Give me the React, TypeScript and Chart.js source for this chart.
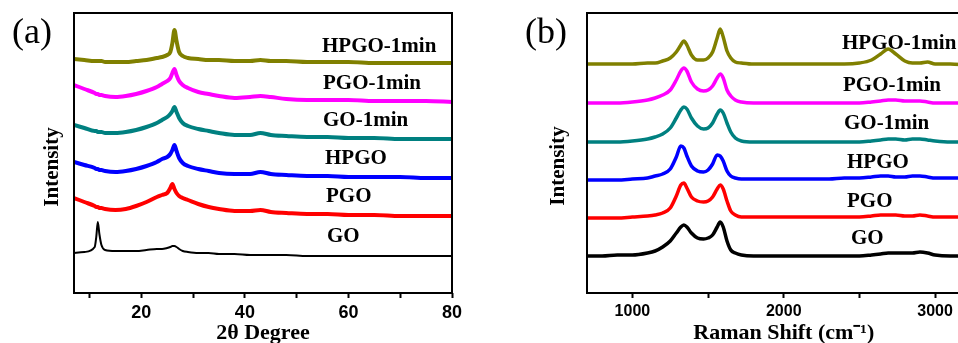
import React, { useEffect, useRef } from 'react';
import { Chart, registerables } from 'chart.js';
Chart.register(...registerables);

// ---------- series ----------
const SERIES = ['GO', 'PGO', 'HPGO', 'GO-1min', 'PGO-1min', 'HPGO-1min'];
const COLORS = ['#000000', '#ff0000', '#0000ff', '#008080', '#ff00ff', '#808000'];

// ---------- (a) XRD ----------
const XRD_X = [7, 9, 11, 11.3, 11.6, 11.9, 12.3, 13, 15, 17, 19, 21, 23, 24, 25, 25.6, 26, 26.4, 26.8, 27.3, 28, 29, 31, 33, 35, 38, 41, 43, 45, 48, 52, 56, 60, 65, 70, 75, 80];
const XRD_GO = [40, 41, 46, 56, 71, 59, 48, 43, 42, 42, 42, 43, 44, 44, 45, 46, 47, 47, 46, 44, 42, 41, 40, 40, 39, 39, 38, 38, 38, 38, 37, 37, 37, 37, 37, 37, 37];
const XRD_PGO = [95, 91, 87, 86, 86, 85, 85, 84, 83, 84, 87, 91, 96, 98, 100, 105, 109, 104, 100, 97, 95, 93, 89, 86, 84, 82, 82, 83, 81, 80, 79, 79, 78, 78, 77, 77, 77];
const XRD_HPGO = [131, 128, 125, 124, 124, 123, 123, 122, 121, 122, 124, 127, 131, 134, 136, 139, 143, 148, 142, 135, 130, 127, 124, 122, 120, 119, 119, 121, 119, 118, 117, 117, 116, 116, 116, 115, 115];
const XRD_GO1 = [168, 165, 162, 162, 161, 161, 161, 160, 160, 161, 163, 166, 170, 173, 176, 179, 182, 186, 181, 175, 170, 167, 164, 162, 160, 158, 158, 160, 158, 157, 156, 156, 155, 155, 154, 154, 154];
const XRD_PGO1 = [208, 204, 200, 199, 199, 198, 198, 197, 196, 197, 199, 202, 206, 209, 212, 215, 220, 224, 218, 212, 208, 205, 201, 199, 197, 195, 196, 197, 196, 194, 193, 193, 193, 192, 192, 192, 191];
const XRD_HPGO1 = [234, 233, 232, 232, 232, 232, 232, 231, 231, 231, 232, 233, 235, 236, 238, 241, 250, 263, 252, 241, 237, 235, 234, 233, 233, 232, 232, 233, 232, 232, 231, 231, 231, 230, 230, 230, 230];
const XRD_TICKS = [10, 20, 30, 40, 50, 60, 70, 80];
const XRD_LABELED = [20, 40, 60, 80];

// ---------- (b) Raman ----------
const RAMAN_X = [700, 800, 900, 1000, 1100, 1150, 1200, 1250, 1290, 1320, 1340, 1360, 1390, 1430, 1470, 1500, 1530, 1560, 1580, 1600, 1625, 1650, 1680, 1720, 1800, 1900, 2000, 2100, 2200, 2300, 2400, 2500, 2580, 2640, 2690, 2740, 2800, 2850, 2900, 2950, 3000, 3100, 3200];
const RAMAN_GO = [37, 37, 38, 38, 40, 42, 46, 52, 60, 66, 68, 66, 60, 55, 54, 55, 58, 66, 71, 66, 52, 43, 40, 38, 37, 37, 37, 37, 37, 37, 37, 37, 38, 39, 40, 40, 40, 40, 41, 40, 38, 37, 37];
const RAMAN_PGO = [75, 75, 75, 76, 77, 78, 80, 85, 97, 108, 110, 105, 96, 92, 91, 92, 96, 104, 108, 104, 92, 82, 78, 76, 76, 76, 76, 76, 76, 76, 76, 76, 77, 78, 78, 78, 77, 77, 78, 77, 76, 76, 76];
const RAMAN_HPGO = [113, 113, 113, 114, 115, 117, 119, 124, 136, 147, 145, 137, 127, 122, 121, 123, 129, 138, 137, 132, 122, 117, 115, 114, 114, 114, 114, 114, 114, 114, 115, 115, 116, 117, 117, 116, 116, 117, 117, 116, 115, 115, 115];
const RAMAN_GO1 = [151, 151, 151, 152, 154, 156, 159, 165, 175, 183, 186, 184, 175, 167, 164, 165, 170, 179, 183, 180, 170, 161, 155, 152, 151, 151, 151, 151, 151, 151, 151, 151, 152, 153, 154, 154, 153, 154, 154, 153, 152, 151, 151];
const RAMAN_PGO1 = [190, 190, 190, 191, 193, 195, 198, 203, 213, 222, 225, 222, 211, 204, 202, 203, 207, 215, 219, 215, 203, 197, 193, 191, 190, 190, 190, 190, 190, 190, 190, 190, 191, 192, 193, 193, 192, 192, 192, 191, 190, 190, 190];
const RAMAN_HPGO1 = [229, 229, 229, 229, 230, 230, 232, 235, 241, 248, 252, 248, 238, 233, 233, 235, 241, 255, 264, 256, 242, 235, 231, 230, 229, 229, 229, 229, 229, 229, 229, 230, 233, 239, 244, 239, 232, 230, 230, 231, 229, 229, 228];
const RAMAN_TICKS = [1000, 1500, 2000, 2500, 3000];
const RAMAN_LABELED = [1000, 2000, 3000];

const XRD_SERIES = [XRD_GO, XRD_PGO, XRD_HPGO, XRD_GO1, XRD_PGO1, XRD_HPGO1];
const RAMAN_SERIES = [RAMAN_GO, RAMAN_PGO, RAMAN_HPGO, RAMAN_GO1, RAMAN_PGO1, RAMAN_HPGO1];

const SERIF = '"Liberation Serif", "Times New Roman", serif';
const SANS = '"Liberation Sans", Arial, sans-serif';

const annotPlugin = {
  id: 'annot',
  afterDraw(chart: any, _args: any, opts: any) {
    const { ctx, chartArea: a } = chart;
    ctx.save();
    ctx.strokeStyle = '#000';
    ctx.lineWidth = 2;
    ctx.strokeRect(a.left, a.top, a.right - a.left, a.bottom - a.top);
    ctx.fillStyle = '#000';
    ctx.textBaseline = 'alphabetic';
    ctx.textAlign = 'left';
    ctx.font = `36px ${SERIF}`;
    ctx.fillText(opts.letter, opts.letterPos[0], opts.letterPos[1]);
    ctx.font = `bold 21px ${SERIF}`;
    opts.labelPos.forEach((p: number[], i: number) => ctx.fillText(SERIES[i], p[0], p[1]));
    ctx.translate(opts.yTitlePos[0], opts.yTitlePos[1]);
    ctx.rotate(-Math.PI / 2);
    ctx.textAlign = 'center';
    ctx.fillText('Intensity', 0, 0);
    ctx.restore();
  },
};

function makeConfig(xs: number[], series: number[][], widths: number[], xmin: number, xmax: number,
  ticks: number[], labeled: number[], tickSize: number, title: string, padding: any, annot: any) {
  return {
    type: 'line' as const,
    data: {
      datasets: series.map((ys, i) => ({
        label: SERIES[i],
        data: xs.map((x, j) => ({ x, y: ys[j] })),
        borderColor: COLORS[i],
        borderWidth: widths[i],
        pointRadius: 0,
        fill: false,
        cubicInterpolationMode: 'monotone' as const,
        borderJoinStyle: 'round' as const,
      })),
    },
    options: {
      animation: false as const,
      responsive: false,
      devicePixelRatio: 1,
      layout: { padding },
      plugins: { legend: { display: false }, tooltip: { enabled: false }, annot },
      scales: {
        x: {
          type: 'linear' as const,
          min: xmin,
          max: xmax,
          afterBuildTicks: (s: any) => { s.ticks = ticks.map((v) => ({ value: v })); },
          afterFit: (s: any) => { s.height = 50; },
          ticks: {
            autoSkip: false,
            maxRotation: 0,
            padding: 4,
            color: '#000',
            font: { family: SANS, size: tickSize, weight: 'bold' as const },
            callback: (v: any) => (labeled.includes(v) ? String(v) : ''),
          },
          grid: { display: true, drawOnChartArea: false, drawTicks: true, tickLength: 5, tickColor: '#000', tickWidth: 2 },
          border: { display: false },
          title: {
            display: true,
            text: title,
            color: '#000',
            font: { family: SERIF, size: 22, weight: 'bold' as const },
            padding: { top: 0, bottom: -4 },
          },
        },
        y: { display: false, min: 0, max: 280 },
      },
    },
    plugins: [annotPlugin],
  };
}

export default function App() {
  const refA = useRef<HTMLCanvasElement>(null);
  const refB = useRef<HTMLCanvasElement>(null);
  useEffect(() => {
    const a = new Chart(refA.current!, makeConfig(
      XRD_X, XRD_SERIES, [2, 4, 4, 4, 4, 4], 7, 80, XRD_TICKS, XRD_LABELED, 18, '2θ Degree',
      { left: 74, right: 28, top: 13, bottom: 0 },
      {
        letter: '(a)', letterPos: [12, 43], yTitlePos: [58, 167],
        labelPos: [[327, 242], [326, 202], [325, 164], [323, 126], [323, 89], [322, 52]],
      }) as any);
    const b = new Chart(refB.current!, makeConfig(
      RAMAN_X, RAMAN_SERIES, [3.5, 3.5, 3.5, 3.5, 3.5, 3.5], 700, 3300, RAMAN_TICKS, RAMAN_LABELED, 16, 'Raman Shift (cm⁻¹)',
      { left: 107, right: 19.5, top: 13, bottom: 0 },
      {
        letter: '(b)', letterPos: [45, 43], yTitlePos: [84, 166],
        labelPos: [[371, 243.5], [367, 206.5], [367, 167.5], [364, 128.5], [363, 91], [362, 48.5]],
      }) as any);
    return () => { a.destroy(); b.destroy(); };
  }, []);
  return (
    <div style={{ position: 'fixed', left: 0, top: 0, width: 958, height: 343, overflow: 'hidden', background: '#fff' }}>
      <canvas ref={refA} width={480} height={343} style={{ position: 'absolute', left: 0, top: 0, width: 480, height: 343 }} />
      <canvas ref={refB} width={520} height={343} style={{ position: 'absolute', left: 480, top: 0, width: 520, height: 343 }} />
    </div>
  );
}
